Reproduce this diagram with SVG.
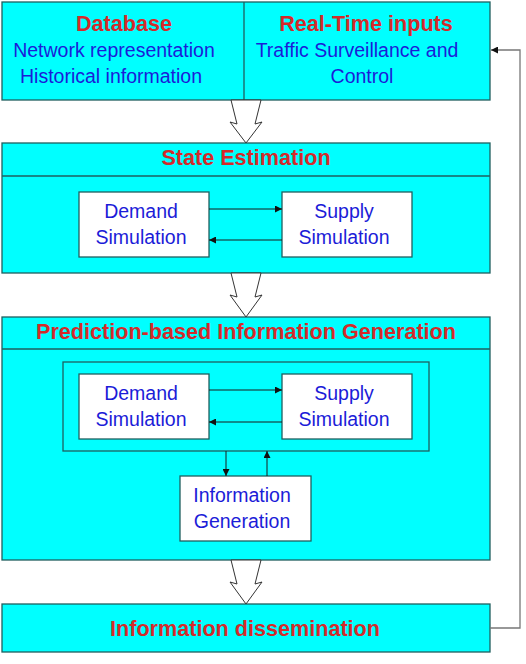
<svg xmlns="http://www.w3.org/2000/svg" width="526" height="664" viewBox="0 0 526 664">
<defs>
<style>
.box{fill:#00ffff;stroke:#1f5f5f;stroke-width:1.3}
.wbox{fill:#ffffff;stroke:#1f5f5f;stroke-width:1.3}
.ttl{font-family:"Liberation Sans",Arial,sans-serif;font-weight:bold;font-size:21.6px;fill:#d42a2a;text-anchor:middle}
.txt{font-family:"Liberation Sans",Arial,sans-serif;font-size:19.5px;fill:#1c1cd8;text-anchor:middle}
.ln{stroke:#1a1a1a;stroke-width:1;fill:none}
.big{fill:#ffffff;stroke:#333333;stroke-width:1}
</style>
<marker id="ah" viewBox="0 0 10 10" refX="10" refY="5" markerWidth="10" markerHeight="7" markerUnits="userSpaceOnUse" orient="auto">
<path d="M0,0 L10,5 L0,10 z" fill="#111"/>
</marker>
</defs>
<g id="inputs">
<rect class="box" x="2" y="2" width="488" height="98"/>
<line x1="244" y1="2" x2="244" y2="100" stroke="#1f5f5f" stroke-width="1.3"/>
<text class="ttl" x="124" y="31">Database</text>
<text class="txt" x="114" y="57">Network representation</text>
<text class="txt" x="111" y="83">Historical information</text>
<text class="ttl" x="366" y="31">Real-Time inputs</text>
<text class="txt" x="357" y="57">Traffic Surveillance and</text>
<text class="txt" x="362" y="83">Control</text>
</g>
<g id="state">
<rect class="box" x="2" y="143" width="488" height="130"/>
<line x1="2" y1="176" x2="490" y2="176" stroke="#1f5f5f" stroke-width="1.3"/>
<text class="ttl" x="246" y="165">State Estimation</text>
</g>
<g id="state-demand">
<rect class="wbox" x="79" y="192" width="130" height="65"/>
<text class="txt" x="141" y="218">Demand</text>
<text class="txt" x="141" y="244">Simulation</text>
</g>
<g id="state-supply">
<rect class="wbox" x="282" y="192" width="130" height="65"/>
<text class="txt" x="344" y="218">Supply</text>
<text class="txt" x="344" y="244">Simulation</text>
</g>
<g id="prediction">
<rect class="box" x="2" y="317" width="488" height="243"/>
<line x1="2" y1="349" x2="490" y2="349" stroke="#1f5f5f" stroke-width="1.3"/>
<text class="ttl" x="246" y="339">Prediction-based Information Generation</text>
<rect class="box" x="63" y="362" width="366" height="89"/>
</g>
<g id="pred-demand">
<rect class="wbox" x="79" y="374" width="130" height="65"/>
<text class="txt" x="141" y="400">Demand</text>
<text class="txt" x="141" y="426">Simulation</text>
</g>
<g id="pred-supply">
<rect class="wbox" x="282" y="374" width="130" height="65"/>
<text class="txt" x="344" y="400">Supply</text>
<text class="txt" x="344" y="426">Simulation</text>
</g>
<g id="info-gen">
<rect class="wbox" x="180" y="476" width="131" height="65"/>
<text class="txt" x="242" y="502">Information</text>
<text class="txt" x="242" y="528">Generation</text>
</g>
<g id="dissemination">
<rect class="box" x="2" y="604" width="488" height="48"/>
<text class="ttl" x="245" y="636">Information dissemination</text>
</g>
<g id="connectors">
<polygon class="big" points="231,100 237,124 230,122 246,143 262,122 255,124 261,100"/>
<polygon class="big" points="231,273 237,297 230,295 246,317 262,295 255,297 261,273"/>
<polygon class="big" points="231,560 237,584 230,582 246,604 262,582 255,584 261,560"/>
<line class="ln" x1="209" y1="209" x2="282" y2="209" marker-end="url(#ah)"/>
<line class="ln" x1="282" y1="240" x2="209" y2="240" marker-end="url(#ah)"/>
<line class="ln" x1="209" y1="390" x2="282" y2="390" marker-end="url(#ah)"/>
<line class="ln" x1="282" y1="422" x2="209" y2="422" marker-end="url(#ah)"/>
<line class="ln" x1="226" y1="451" x2="226" y2="476" marker-end="url(#ah)"/>
<line class="ln" x1="267" y1="476" x2="267" y2="451" marker-end="url(#ah)"/>
<polyline points="490,628 520,628 520,50 491,50" fill="none" stroke="#777" stroke-width="1.3" marker-end="url(#ah)"/>
</g>
</svg>
